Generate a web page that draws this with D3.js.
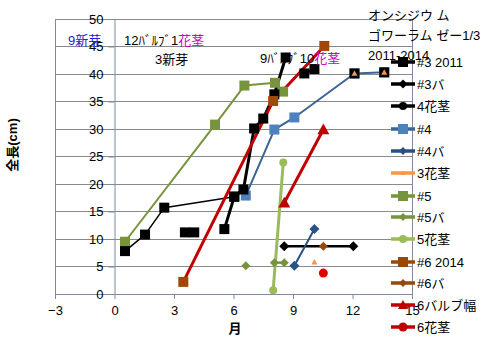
<!DOCTYPE html>
<html><head><meta charset="utf-8">
<script src="https://cdn.jsdelivr.net/npm/d3@7"></script>
<style>
body{margin:0;background:#fff;}
text{font-family:"Liberation Sans","Noto Sans CJK JP",sans-serif;}
</style></head>
<body><svg id="c" width="492" height="341"></svg>
<script>
// ---- data ----
const xTicks = [-3, 0, 3, 6, 9, 12, 15];
const yTicks = [0, 5, 10, 15, 20, 25, 30, 35, 40, 45, 50];
const s3Thin = [[0.53,7.8],[1.54,10.8],[2.51,15.7],[6.04,17.7]];
const s3Thick = [[5.54,11.8],[6.04,17.7],[6.5,19.0],[7.04,30.1],[7.5,31.9],[8.06,36.3],[8.63,43.0],null,[9.57,40.1],[10.08,40.9]];
const s3Loose = [[3.55,11.2],[4.02,11.2],[12.1,40.1],[13.6,40.3]];
const s3ba = [[8.56,8.7],[12.04,8.7]];
const s4kakei = [];
const s4 = [[6.62,17.9],[8.06,29.9],[9.07,32.1],[12.1,40.1],[13.6,40.3]];
const s4ba = [[9.07,5.15],[10.08,11.8]];
const s3kakei = [[10.08,5.8],null,[12.1,40.1],null,[13.6,40.3]];
const s5 = [[0.53,9.5],[5.07,30.8],[6.55,37.9],[8.09,38.4],[8.5,36.8]];
const s5ba = [[6.62,5.15],null,[8.06,5.7],[8.56,5.7]];
const s5kakei = [[8.0,0.7],[8.51,23.9]];
const s6 = [[3.47,2.2],[8.0,35.1],[10.58,45.1]];
const s6ba = [[10.53,8.7]];
const s6bulb = [[8.56,16.6],[10.53,29.9]];
const s6kakei = [[10.53,3.8]];
const legendNames = ["#3 2011","#3バ","4花茎","#4","#4バ","3花茎","#5","#5バ","5花茎","#6 2014","#6バ","6バルブ幅","6花茎"];
const titleLines = ["オンシジウ ム","ゴワーラム ゼー1/3","2011-2014"];

// ---- drawing ----
const svg = d3.select("#c");
const x = d3.scaleLinear().domain([-3, 15]).range([55, 412]);
const y = d3.scaleLinear().domain([0, 50]).range([294, 19]);

// gridlines
svg.append("g").selectAll("line").data(yTicks.filter(d => d > 0)).join("line")
  .attr("x1", x(-3)).attr("x2", x(15)).attr("y1", d => y(d)).attr("y2", d => y(d))
  .attr("stroke", "#8a8a8a").attr("stroke-width", 1).attr("shape-rendering","crispEdges");
// vertical borders
[-3, 15].forEach(v => svg.append("line").attr("x1", x(v)).attr("x2", x(v)).attr("y1", y(50)).attr("y2", y(0))
  .attr("stroke", "#7f8aa0").attr("shape-rendering","crispEdges"));

// axes
const xa = svg.append("g").attr("transform", `translate(0,${y(0)})`)
  .call(d3.axisBottom(x).tickValues(xTicks).tickSizeOuter(0).tickSize(5).tickPadding(4));
const ya = svg.append("g").attr("transform", `translate(${x(0)},0)`)
  .call(d3.axisLeft(y).tickValues(yTicks).tickSizeOuter(0).tickSize(6).tickPadding(5));
[xa, ya].forEach(a => {
  a.select(".domain").attr("stroke", "#7f8aa0");
  a.selectAll(".tick line").attr("stroke", "#7f8aa0");
  a.selectAll("text").attr("font-size", 13).attr("fill", "#000");
});
xa.selectAll(".tick text").attr("dy", "0.9em");

// axis titles
svg.append("text").attr("transform", "translate(17,145) rotate(-90)").attr("text-anchor", "middle")
  .attr("font-size", 13).attr("font-weight", "bold").text("全長(cm)");
svg.append("text").attr("x", 235).attr("y", 333).attr("text-anchor", "middle")
  .attr("font-size", 13).attr("font-weight", "bold").text("月");

const line = d3.line().defined(d => d != null).x(d => x(d[0])).y(d => y(d[1]));
const gPlot = svg.append("g");

function drawLine(data, color, w) {
  gPlot.append("path").datum(data).attr("d", line).attr("fill", "none")
    .attr("stroke", color).attr("stroke-width", w).attr("stroke-linejoin", "round");
}
function marker(g, shape, cx, cy, size, fill, stroke) {
  let el;
  if (shape === "square") {
    el = g.append("rect").attr("x", cx - size/2).attr("y", cy - size/2).attr("width", size).attr("height", size);
  } else if (shape === "diamond") {
    const s = size/2;
    el = g.append("path").attr("d", `M${cx},${cy-s}L${cx+s},${cy}L${cx},${cy+s}L${cx-s},${cy}Z`);
  } else if (shape === "circle") {
    el = g.append("circle").attr("cx", cx).attr("cy", cy).attr("r", size/2);
  } else if (shape === "triangle") {
    const s = size/2;
    el = g.append("path").attr("d", `M${cx},${cy-s}L${cx+s},${cy+s*0.8}L${cx-s},${cy+s*0.8}Z`);
  }
  el.attr("fill", fill).attr("stroke", stroke || "none").attr("stroke-width", stroke ? 1 : 0);
  return el;
}
function drawMarkers(data, shape, size, fill, stroke) {
  data.filter(d => d != null).forEach(d => marker(gPlot, shape, x(d[0]), y(d[1]), size, fill, stroke));
}

// lines
drawLine(s5, "#77933C", 2);
drawLine(s3Thin, "#000", 1.5);
drawLine(s4, "#3C6496", 2);
drawLine(s3Thick, "#000", 3);
drawLine(s6, "#C00000", 3);
drawLine(s6bulb, "#C00000", 3);
drawLine(s3ba, "#000", 2.5);
drawLine(s4ba, "#2A5183", 2);
drawLine(s5ba, "#77933C", 2.5);
drawLine(s5kakei, "#9BBB59", 3);

// markers
drawMarkers(s5, "square", 10, "#77933C");
drawMarkers(s4, "square", 10, "#4F81BD");
drawMarkers(s3Thin, "square", 10, "#000");
drawMarkers(s3Thick, "square", 10, "#000");
drawMarkers(s3Loose, "square", 10, "#000");
drawMarkers(s6, "square", 10, "#A0480A");
drawMarkers(s3ba, "diamond", 10, "#000");
drawMarkers(s4ba, "diamond", 10, "#2A5183");
drawMarkers(s5ba, "diamond", 9, "#77933C");
drawMarkers(s5kakei, "circle", 8, "#9BBB59");
drawMarkers(s6ba, "diamond", 9, "#984807");
drawMarkers(s3kakei, "triangle", 6, "#F79646");
drawMarkers(s6bulb, "triangle", 12, "#C00000");
drawMarkers(s6kakei, "circle", 9, "#E00000");

// legend
const legStyles = [
  {c:"#000", m:"square", s:10},
  {c:"#000", m:"diamond", s:9},
  {c:"#000", m:"circle", s:8},
  {c:"#4F81BD", lc:"#3C6496", m:"square", s:10},
  {c:"#2A5183", m:"diamond", s:8},
  {c:"#F79646", m:"triangle", s:5},
  {c:"#77933C", m:"square", s:10},
  {c:"#77933C", m:"diamond", s:8},
  {c:"#9BBB59", m:"circle", s:8},
  {c:"#984807", m:"square", s:10},
  {c:"#984807", m:"diamond", s:8},
  {c:"#C00000", m:"triangle", s:10},
  {c:"#C00000", m:"circle", s:9}
];
const legY = [62, 84, 106, 129, 151, 173, 196, 217, 239, 262, 283, 305, 327];
const gl = svg.append("g");
legendNames.forEach((n, i) => {
  const st = legStyles[i];
  gl.append("line").attr("x1", 391).attr("x2", 415).attr("y1", legY[i]).attr("y2", legY[i])
    .attr("stroke", st.lc || st.c).attr("stroke-width", 3.5);
  marker(gl, st.m, 403, legY[i], st.s, st.c);
  gl.append("text").attr("x", 417).attr("y", legY[i]).attr("dy", "0.36em").attr("font-size", 13).text(n);
});

// title block
titleLines.forEach((t, i) => {
  svg.append("text").attr("x", 368).attr("y", [15, 35, 55][i]).attr("dy", "0.36em")
    .attr("font-size", 13).text(t);
});

// annotations
svg.append("text").attr("x", 68).attr("y", 40).attr("dy", "0.36em").attr("font-size", 13)
  .attr("fill", "#2323C8").text("9新芽");
const a1 = svg.append("text").attr("x", 124).attr("y", 40).attr("dy", "0.36em").attr("font-size", 13);
a1.append("tspan").text("12ﾊﾞﾙﾌﾞ1");
a1.append("tspan").attr("fill", "#CC00CC").text("花茎");
svg.append("text").attr("x", 155).attr("y", 59).attr("dy", "0.36em").attr("font-size", 13).text("3新芽");
const a2 = svg.append("text").attr("x", 260).attr("y", 58).attr("dy", "0.36em").attr("font-size", 13);
a2.append("tspan").text("9ﾊﾞﾙﾌﾞ10");
a2.append("tspan").attr("fill", "#CC00CC").text("花茎");
</script></body></html>
